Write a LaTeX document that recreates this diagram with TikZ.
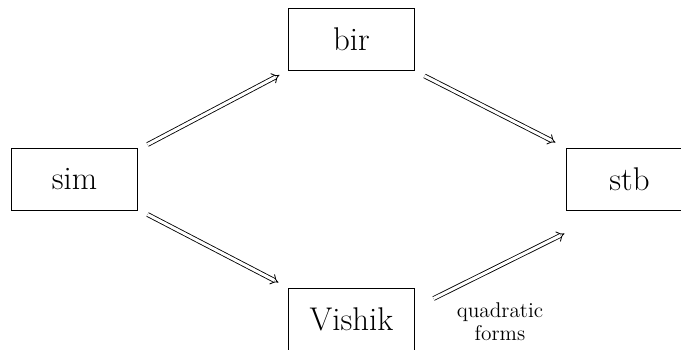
\documentclass[tikz,border=0pt]{standalone}
\usetikzlibrary{arrows.meta,calc}
\begin{document}
\begin{tikzpicture}[
  x=0.526pt, y=-0.526pt,
  box/.style={draw, line width=0.5pt, minimum width=65.8pt, minimum height=32.6pt,
    inner sep=0pt, font=\LARGE},
  impl/.style={double, line width=0.45pt, double distance=1.6pt, -{Implies}},
  note/.style={align=center, inner sep=0pt, font=\fontsize{11.2}{12.1}\selectfont}
]
\clip (0,0) rectangle (681,349);
\useasboundingbox (0,0) rectangle (681,349);

\node[box] (sim)    at (74.5,179)  {sim};
\node[box] (bir)    at (351.5,39.5) {bir};
\node[box] (vishik) at (351.5,319) {Vishik};
\node[box] (stb)    at (629.5,179) {stb};

\draw[impl] ($(sim.north east)+(10,-3)$) -- ($(bir.south west)+(-9,4)$);
\draw[impl] ($(sim.south east)+(10,4)$) -- ($(vishik.north west)+(-10,-5)$);
\draw[impl] ($(bir.south east)+(10,5)$) -- ($(stb.north west)+(-11,-5)$);
\draw[impl] ($(vishik.north east)+(19,11)$) -- ($(stb.south west)+(-2,23)$);

\node[note] (qf) at (500,322) {quadratic\\forms};
\end{tikzpicture}
\end{document}
